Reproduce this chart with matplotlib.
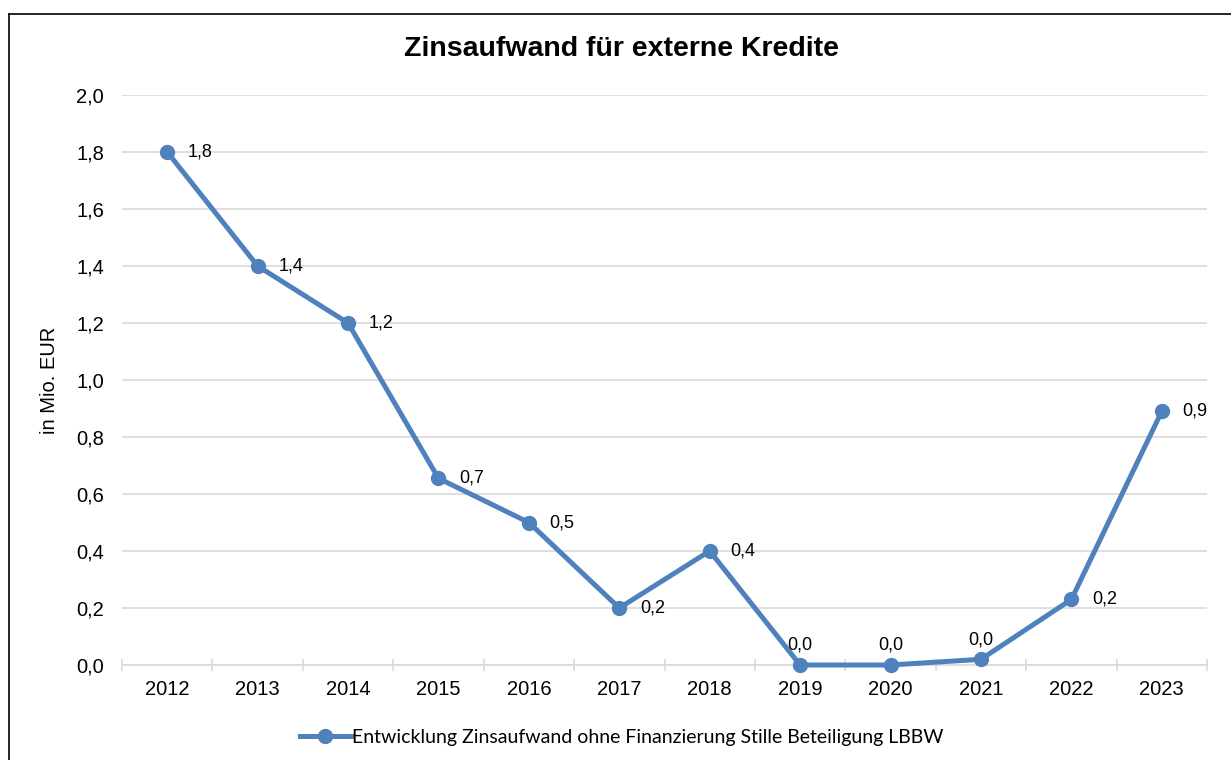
import matplotlib
matplotlib.use("Agg")
import matplotlib.pyplot as plt
from matplotlib.lines import Line2D

years = ["2012", "2013", "2014", "2015", "2016", "2017", "2018", "2019", "2020", "2021", "2022", "2023"]
values = [1.8, 1.4, 1.2, 0.655, 0.5, 0.2, 0.4, 0.0, 0.0, 0.02, 0.23, 0.89]
label_pos = ["r", "r", "r", "r", "r", "r", "r", "t", "t", "t", "r", "r"]
yticks = [0.0, 0.2, 0.4, 0.6, 0.8, 1.0, 1.2, 1.4, 1.6, 1.8, 2.0]
title = "Zinsaufwand für externe Kredite"
ylabel = "in Mio. EUR"
series_name = "Entwicklung Zinsaufwand ohne Finanzierung Stille Beteiligung LBBW"

W, H = 1231, 760
fig = plt.figure(figsize=(W / 100, H / 100), dpi=100)
plt.rcParams['font.family'] = ['Liberation Sans', 'DejaVu Sans']

FS = 14.5
ax = fig.add_axes([122 / W, 1 - 665 / H, (1207 - 122) / W, (665 - 95) / H])
color = "#4F81BD"
x = list(range(len(years)))
ax.plot(x, values, color=color, lw=3.6, marker="o", markersize=10, zorder=3,
        solid_joinstyle="round", clip_on=False)

def fmt(v):
    return f"{v:.1f}".replace(".", ",")

for xi, v, p in zip(x, values, label_pos):
    if p == "r":
        ax.annotate(fmt(v), (xi, v), xytext=(15, 0), textcoords="offset points",
                    ha="left", va="center", fontsize=13, zorder=4)
    else:
        ax.annotate(fmt(v), (xi, v), xytext=(0, 8), textcoords="offset points",
                    ha="center", va="bottom", fontsize=13, zorder=4)

ax.set_xlim(-0.5, len(years) - 0.5)
ax.set_ylim(0, 2.0)
ax.set_yticks(yticks)
ax.set_yticklabels([fmt(t) for t in yticks], fontsize=FS)
ax.set_xticks(x)
ax.set_xticklabels(years, fontsize=FS)
ax.tick_params(axis="x", length=0, pad=11)
ax.tick_params(axis="y", length=0, pad=13)
# boundary ticks
ax.set_xticks([i - 0.5 for i in range(len(years) + 1)], minor=True)
ax.tick_params(axis="x", which="minor", length=9, width=1.2, color="#d9d9d9", direction="inout")
ax.grid(axis="y", color="#d9d9d9", lw=1.2)
ax.set_axisbelow(True)
for s in ["top", "right", "left"]:
    ax.spines[s].set_visible(False)
ax.spines["bottom"].set_color("#d9d9d9")
ax.spines["bottom"].set_linewidth(1.2)
ax.set_ylabel(ylabel, fontsize=FS, labelpad=12)

fig.text(621 / W, 1 - 49 / H, title, ha="center", va="center", fontsize=20.5, fontweight="bold")

# legend
handle = Line2D([0], [0], color=color, lw=3.6, marker="o", markersize=10)
leg = fig.legend([handle], [series_name], loc="center", bbox_to_anchor=(622 / W, 1 - 737 / H),
                 frameon=False, prop={"family": "Lato", "size": 14}, handlelength=2.6,
                 handletextpad=0.1, borderaxespad=0)

# outer frame (left and top edges visible)
fig.add_artist(Line2D([8.5 / W, 8.5 / W], [0, 1 - 13.5 / H], transform=fig.transFigure, color="black", lw=1.2))
fig.add_artist(Line2D([8.5 / W, 1], [1 - 13.5 / H, 1 - 13.5 / H], transform=fig.transFigure, color="black", lw=1.2))

fig.savefig("out.png", dpi=100, facecolor="white")
